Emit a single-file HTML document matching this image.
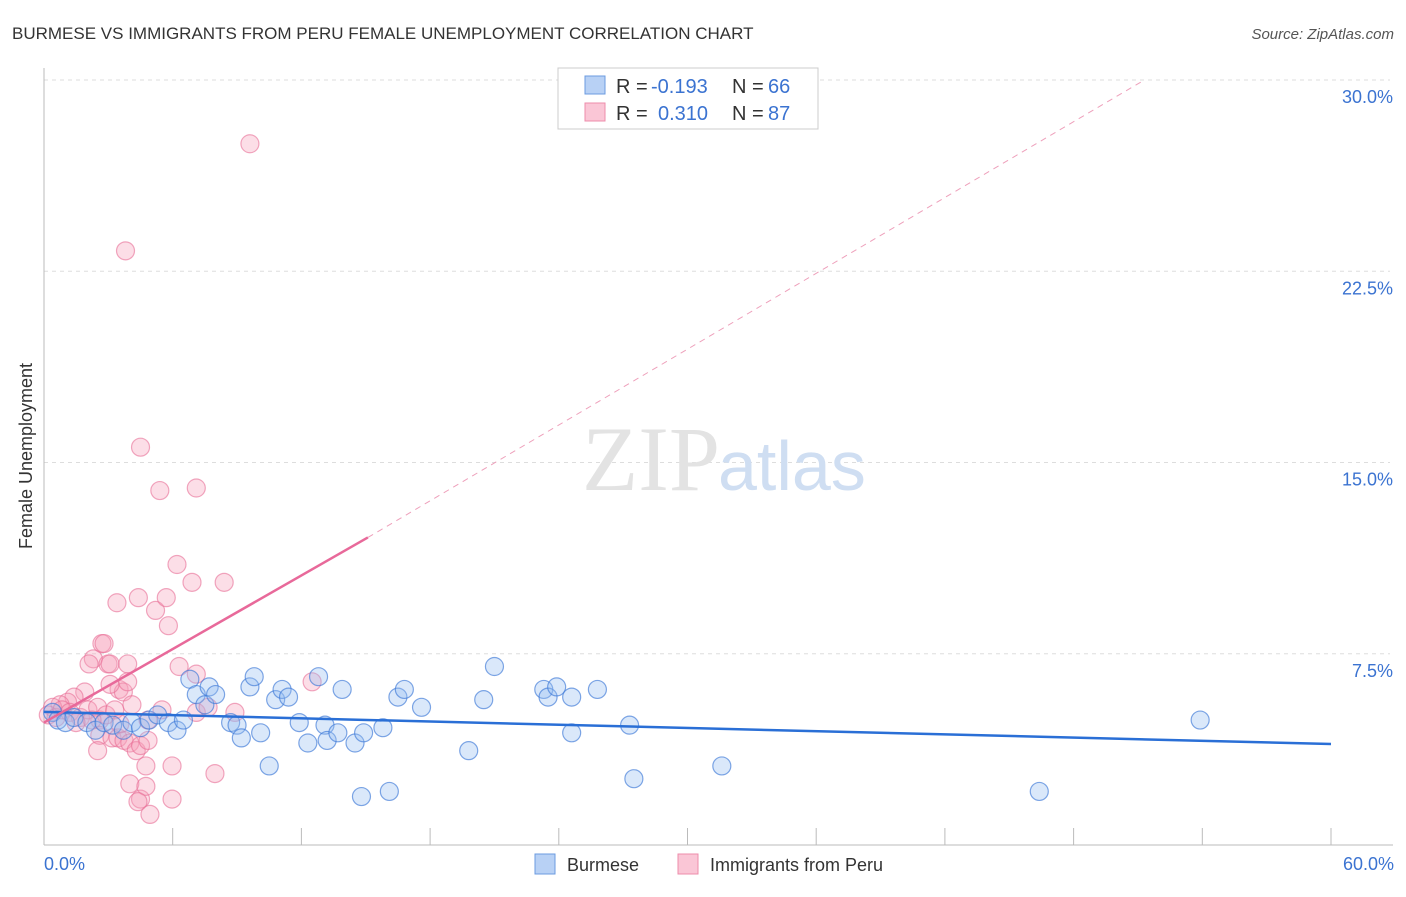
<!DOCTYPE html>
<html><head><meta charset="utf-8"><style>
body{margin:0;background:#fff;font-family:"Liberation Sans",sans-serif}
svg text{font-family:"Liberation Sans",sans-serif}
</style></head><body>
<svg width="1406" height="892" viewBox="0 0 1406 892">
<text x="12" y="39" font-size="17" fill="#333">BURMESE VS IMMIGRANTS FROM PERU FEMALE UNEMPLOYMENT CORRELATION CHART</text>
<text x="1394" y="39" font-size="15" fill="#555" font-style="italic" text-anchor="end">Source: ZipAtlas.com</text>
<g id="grid"></g>
<text x="720" y="490" font-size="92" fill="#e3e3e3" text-anchor="end" style="font-family:'Liberation Serif',serif">ZIP</text>
<text x="718" y="490" font-size="70" fill="#cfdef2">atlas</text>
<line x1="44" y1="68" x2="44" y2="845" stroke="#bbb"/>
<line x1="44" y1="845" x2="1393" y2="845" stroke="#bbb"/>
<g id="ticks"></g>
<g id="pts"></g>
<g id="lines"></g>
<text x="32" y="456" font-size="18" fill="#333" transform="rotate(-90 32 456)" text-anchor="middle">Female Unemployment</text>
<text x="44" y="870" font-size="18" fill="#3b73d1">0.0%</text>
<text x="1394" y="870" font-size="18" fill="#3b73d1" text-anchor="end">60.0%</text>
<g>
<rect x="558" y="68" width="260" height="61" fill="#fff" stroke="#ccc"/>
<rect x="585" y="76" width="20" height="18" fill="#b8d1f5" stroke="#6b9be0"/>
<rect x="585" y="103" width="20" height="18" fill="#fac6d6" stroke="#ee8cab"/>
<text x="616" y="93" font-size="20" fill="#333">R =</text>
<text x="651" y="93" font-size="20" fill="#3b73d1">-0.193</text>
<text x="732" y="93" font-size="20" fill="#333">N =</text>
<text x="768" y="93" font-size="20" fill="#3b73d1">66</text>
<text x="616" y="120" font-size="20" fill="#333">R =</text>
<text x="658" y="120" font-size="20" fill="#3b73d1">0.310</text>
<text x="732" y="120" font-size="20" fill="#333">N =</text>
<text x="768" y="120" font-size="20" fill="#3b73d1">87</text>
</g>
<g>
<rect x="535" y="854" width="20" height="20" fill="#b8d1f5" stroke="#6b9be0"/>
<text x="567" y="871" font-size="18" fill="#333">Burmese</text>
<rect x="678" y="854" width="20" height="20" fill="#fac6d6" stroke="#ee8cab"/>
<text x="710" y="871" font-size="18" fill="#333">Immigrants from Peru</text>
</g>
</svg>
<script>
const yTicks=[7.5,15,22.5,30];
const yTickLabels=["7.5%","15.0%","22.5%","30.0%"];
const xTicks=[0,6,12,18,24,30,36,42,48,54,60];
const burmeseX=[0.4,0.65,1,1.4,2,2.4,2.8,3.2,3.7,4.1,4.5,4.9,5.3,5.8,6.2,6.5,6.8,7.1,7.5,7.7,8,8.7,9,9.2,9.6,9.8,10.1,10.8,11.1,11.4,10.5,11.9,12.3,12.8,13.1,13.2,13.7,13.9,14.5,14.8,14.9,15.8,16.1,16.5,16.8,17.6,19.8,20.5,21,23.3,23.5,23.9,24.6,24.6,25.8,27.3,27.5,31.6,46.4,53.9];
const burmeseY=[5.2,4.9,4.8,5,4.8,4.5,4.8,4.7,4.5,4.8,4.6,4.9,5.1,4.8,4.5,4.9,6.5,5.9,5.5,6.2,5.9,4.8,4.7,4.2,6.2,6.6,4.4,5.7,6.1,5.8,3.1,4.8,4,6.6,4.7,4.1,4.4,6.1,4,1.9,4.4,4.6,2.1,5.8,6.1,5.4,3.7,5.7,7,6.1,5.8,6.2,5.8,4.4,6.1,4.7,2.6,3.1,2.1,4.9];
const peruX=[9.6,3.8,4.5,5.4,7.1,6.2,6.9,8.4,4.4,3.4,5.2,5.7,5.8,2.7,2.8,2.3,2.1,2.985,3.08,3.9,6.3,7.1,12.5,3.5,3.7,3.08,3.9,1.9,1.4,1.1,0.75,0.4,0.2,0.56,0.84,1.2,1.7,2.05,2.5,2.6,2.9,3.3,4.1,4.85,5.5,7.1,7.65,8.9,2.6,2.5,3.17,3.45,3.73,4,4.3,4.5,4.85,4,4.5,4.75,5.97,4.75,4.38,4.94,5.97,7.97,3.54,2.24,1.49];
const peruY=[27.5,23.3,15.6,13.9,14,11,10.3,10.3,9.7,9.5,9.2,9.7,8.6,7.9,7.9,7.3,7.1,7.1,7.1,7.1,7,6.7,6.4,6.1,6,6.3,6.4,6,5.8,5.6,5.5,5.4,5.1,5,5.3,5.2,5,5.3,5.4,4.9,5.1,5.3,5.5,4.9,5.3,5.2,5.4,5.2,4.3,3.7,4.2,4.2,4.1,4,3.7,3.9,4.1,2.4,1.8,2.3,3.1,3.1,1.7,1.2,1.8,2.8,4.75,4.9,4.8];
const NS='http://www.w3.org/2000/svg';
const X=v=>44+v*21.45, Y=v=>845-v*25.5;
function mk(t,a,p){const e=document.createElementNS(NS,t);for(const k in a)e.setAttribute(k,a[k]);document.getElementById(p).appendChild(e);return e;}
yTicks.forEach((t,i)=>{
 const l=mk('line',{x1:44,x2:1390,y1:Y(t),y2:Y(t),stroke:'#ddd','stroke-dasharray':'4,4'},'grid');
 
 
 const tx=mk('text',{x:1393,y:Y(t)+23,'font-size':18,fill:'#3b73d1','text-anchor':'end'},'grid');
 tx.textContent=yTickLabels[i];
 
 
});
xTicks.forEach(t=>{
 const l=mk('line',{x1:X(t),x2:X(t),y1:828,y2:845,stroke:'#bbb'},'ticks');
 
 
});
peruX.forEach((v,i)=>{
 const c=mk('circle',{cx:X(v),cy:Y(peruY[i]),r:9,fill:'rgba(245,160,185,0.35)',stroke:'rgba(232,110,150,0.6)','stroke-width':1.2},'pts');
 
 
});
burmeseX.forEach((v,i)=>{
 const c=mk('circle',{cx:X(v),cy:Y(burmeseY[i]),r:9,fill:'rgba(150,190,240,0.35)',stroke:'rgba(60,120,215,0.65)','stroke-width':1.2},'pts');
 
 
});
let l=mk('line',{x1:X(0),y1:Y(5.22),x2:X(60),y2:Y(3.96),stroke:'#2a6fd6','stroke-width':2.5},'lines');


l=mk('line',{x1:X(0),y1:Y(4.8),x2:X(15.1),y2:Y(12.06),stroke:'#e8699a','stroke-width':2.5},'lines');


l=mk('line',{x1:X(15.1),y1:Y(12.06),x2:X(51.3),y2:Y(30),stroke:'#eea0bb','stroke-width':1,'stroke-dasharray':'6,5'},'lines');


</script>
</body></html>
